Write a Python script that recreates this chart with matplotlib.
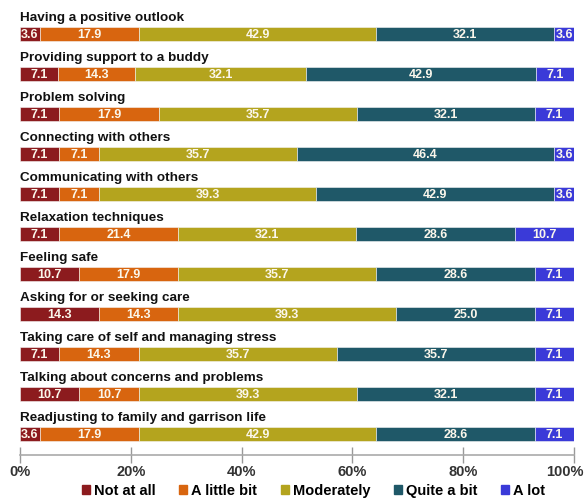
import matplotlib
matplotlib.use("Agg")
import matplotlib.pyplot as plt
from matplotlib.patches import Patch
import matplotlib.transforms as mtransforms
import numpy as np

plt.rcParams['font.family'] = ['Liberation Sans', 'DejaVu Sans']

categories = [
    "Having a positive outlook",
    "Providing support to a buddy",
    "Problem solving",
    "Connecting with others",
    "Communicating with others",
    "Relaxation techniques",
    "Feeling safe",
    "Asking for or seeking care",
    "Taking care of self and managing stress",
    "Talking about concerns and problems",
    "Readjusting to family and garrison life",
]
series_names = ["Not at all", "A little bit", "Moderately", "Quite a bit", "A lot"]
not_at_all = [3.6, 7.1, 7.1, 7.1, 7.1, 7.1, 10.7, 14.3, 7.1, 10.7, 3.6]
a_little_bit = [17.9, 14.3, 17.9, 7.1, 7.1, 21.4, 17.9, 14.3, 14.3, 10.7, 17.9]
moderately = [42.9, 32.1, 35.7, 35.7, 39.3, 32.1, 35.7, 39.3, 35.7, 39.3, 42.9]
quite_a_bit = [32.1, 42.9, 32.1, 46.4, 42.9, 28.6, 28.6, 25.0, 35.7, 32.1, 28.6]
a_lot = [3.6, 7.1, 7.1, 3.6, 3.6, 10.7, 7.1, 7.1, 7.1, 7.1, 7.1]
colors = ["#8C1B1E", "#D8650F", "#B4A41E", "#1F5868", "#3A3AD8"]
tick_labels = ["0%", "20%", "40%", "60%", "80%", "100%"]

data = np.array([not_at_all, a_little_bit, moderately, quite_a_bit, a_lot])
totals = data.sum(axis=0)
widths = data / totals * 100

fig = plt.figure(figsize=(5.86, 5.0), dpi=100)
ax = fig.add_axes([20/586, 45/500, 554/586, 445/500])

y = np.arange(len(categories))
left = np.zeros(len(categories))
for k in range(len(series_names)):
    ax.barh(y, widths[k], left=left, height=0.36, color=colors[k],
            edgecolor='#f4f4f4', linewidth=0.4)
    for i in range(len(categories)):
        ax.text(left[i] + widths[k][i] / 2, y[i] + 0.02, f"{data[k][i]:.1f}",
                ha='center', va='center', color='#FBF7EC', fontsize=9,
                fontweight='bold')
    left += widths[k]

for i, c in enumerate(categories):
    ax.text(0, y[i] - 0.24, c, ha='left', va='bottom', fontsize=9.7,
            fontweight='bold', color='#111111')

ax.set_xlim(0, 100)
ax.set_ylim(10.525, -0.6)
ax.set_yticks([])
for s in ['top', 'right', 'left']:
    ax.spines[s].set_visible(False)
ax.spines['bottom'].set_color('#aaaaaa')
ax.spines['bottom'].set_linewidth(1.2)
ax.set_xticks(np.linspace(0, 100, 6))
ax.set_xticklabels(tick_labels, fontsize=10.5, fontweight='bold', color='#333333')
ax.tick_params(axis='x', direction='inout', length=12, width=1.0,
               color='#999999', pad=1)
last = ax.get_xticklabels()[-1]
last.set_transform(last.get_transform() +
                   mtransforms.ScaledTranslation(-9/100, 0, fig.dpi_scale_trans))

handles = [Patch(color=c) for c in colors]
fig.legend(handles, series_names, loc='center', bbox_to_anchor=(0.535, 0.018),
           ncol=5, frameon=False, handlelength=0.55, handleheight=0.55,
           handletextpad=0.3, columnspacing=1.6,
           prop={'weight': 'bold', 'size': 10.5})

fig.savefig("out.png", dpi=100)
